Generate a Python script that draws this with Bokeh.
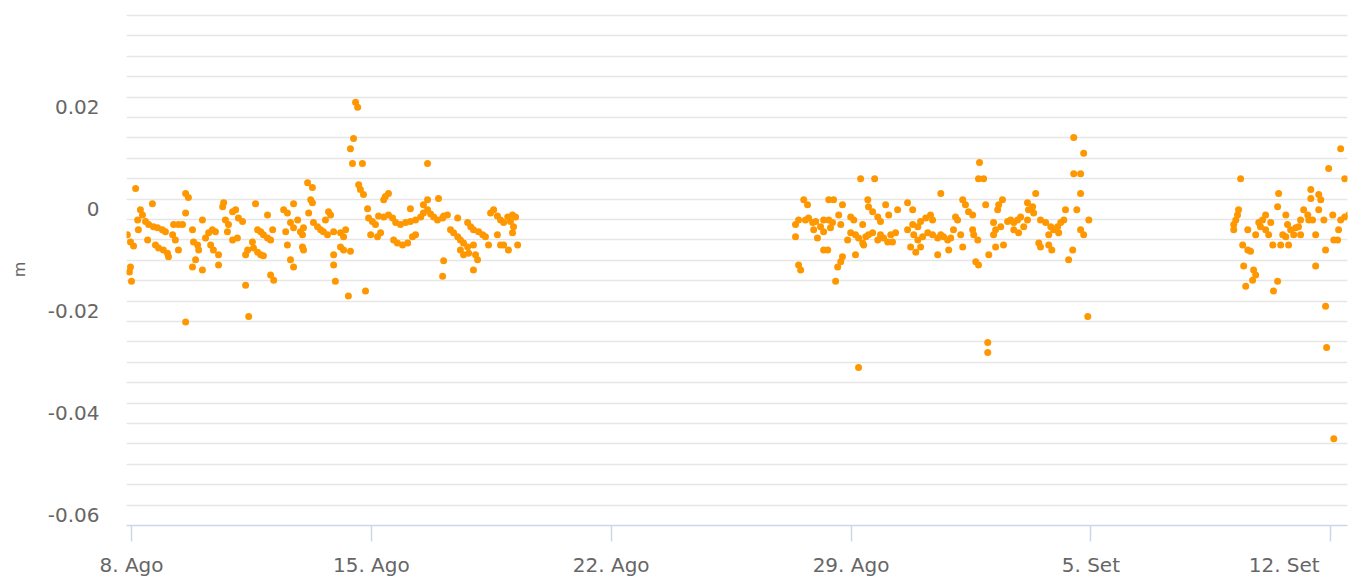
from bokeh.plotting import figure
from bokeh.models import Range1d, FixedTicker
from bokeh.embed import file_html
from bokeh.resources import INLINE

# time: days after 8 Aug 00:00 ; value: metres
aug1_t = [-0.12, -0.06, -0.03, -0.03, 0.00, 0.06, 0.12, 0.18, 0.20, 0.26,
          0.32, 0.41, 0.47, 0.50, 0.61, 0.64, 0.70, 0.76, 0.79, 0.90,
          0.93, 0.99, 1.05, 1.08, 1.20, 1.23, 1.28, 1.37, 1.37, 1.49,
          1.58, 1.58, 1.58, 1.66, 1.78, 1.78, 1.81, 1.87, 1.93, 1.96,
          2.07, 2.07, 2.16, 2.25, 2.31, 2.36, 2.39, 2.45, 2.54, 2.54,
          2.66, 2.69, 2.74, 2.80, 2.83, 2.95, 2.95, 3.04, 3.09, 3.12,
          3.24, 3.33, 3.33, 3.39, 3.42, 3.53, 3.56, 3.62, 3.68, 3.68,
          3.77, 3.77, 3.85, 3.85, 3.97, 3.97, 4.06, 4.06, 4.12, 4.15,
          4.44, 4.50, 4.55, 4.55, 4.64, 4.64, 4.73, 4.73, 4.73, 4.85,
          4.93, 4.99, 4.99, 5.02, 5.02, 5.14, 5.17, 5.23, 5.28, 5.28,
          5.31, 5.43, 5.52, 5.60, 5.66, 5.72, 5.75, 5.81, 5.90, 5.90,
          5.90, 5.95, 6.10, 6.10, 6.19, 6.19, 6.25, 6.33, 6.39, 6.39,
          6.45, 6.48, 6.54, 6.60, 6.63, 6.68, 6.74, 6.77, 6.83, 6.89,
          6.92, 6.98, 7.03, 7.12, 7.18, 7.21, 7.27, 7.36, 7.36, 7.41,
          7.50, 7.50, 7.62, 7.65, 7.71, 7.76, 7.85, 7.91, 8.00, 8.06,
          8.14, 8.14, 8.20, 8.29, 8.29, 8.44, 8.52, 8.52, 8.64, 8.64,
          8.64, 8.73, 8.82, 8.93, 8.96, 9.08, 9.08, 9.11, 9.11, 9.22,
          9.31, 9.40, 9.52, 9.52, 9.60, 9.60, 9.69, 9.69, 9.81, 9.81,
          9.84, 9.90, 9.98, 9.98, 9.98, 10.04, 10.10, 10.13, 10.25, 10.33,
          10.42, 10.48, 10.57, 10.68, 10.68, 10.77, 10.77, 10.86, 10.86, 10.98,
          11.00, 11.06, 11.12, 11.12, 11.15, 11.21, 11.27]
aug1_z = [-0.0050, -0.0123, -0.0064, -0.0113, -0.0141, -0.0072, 0.0041, -0.0021, -0.0040, -0.0001,
          -0.0011, -0.0024, -0.0060, -0.0030, 0.0011, -0.0034, -0.0070, -0.0036, -0.0076, -0.0040,
          -0.0080, -0.0044, -0.0086, -0.0093, -0.0050, -0.0030, -0.0060, -0.0030, -0.0080, -0.0030,
          0.0031, -0.0007, -0.0221, 0.0023, -0.0040, -0.0113, -0.0064, -0.0099, -0.0070, -0.0080,
          -0.0021, -0.0119, -0.0056, -0.0046, -0.0070, -0.0040, -0.0080, -0.0044, -0.0089, -0.0109,
          0.0005, 0.0013, -0.0021, -0.0044, -0.0030, -0.0005, -0.0060, -0.0001, -0.0056, -0.0017,
          -0.0024, -0.0089, -0.0149, -0.0080, -0.0210, -0.0064, -0.0076, 0.0011, -0.0040, -0.0084,
          -0.0044, -0.0089, -0.0050, -0.0091, -0.0011, -0.0056, -0.0060, -0.0129, -0.0040, -0.0139,
          -0.0001, -0.0044, -0.0007, -0.0070, -0.0026, -0.0099, 0.0011, -0.0036, -0.0113, -0.0021,
          -0.0044, -0.0050, -0.0074, -0.0036, -0.0080, 0.0052, -0.0007, 0.0019, 0.0043, 0.0013,
          -0.0026, -0.0034, -0.0040, -0.0044, -0.0021, -0.0050, -0.0005, -0.0011, -0.0044, -0.0089,
          -0.0109, -0.0141, -0.0046, -0.0074, -0.0054, -0.0080, -0.0040, -0.0170, 0.0119, -0.0082,
          0.0090, 0.0139, 0.0210, 0.0200, 0.0048, 0.0039, 0.0090, 0.0029, -0.0160, 0.0001,
          -0.0017, -0.0050, -0.0024, -0.0030, -0.0054, -0.0013, -0.0046, 0.0019, -0.0015, 0.0025,
          0.0031, -0.0011, -0.0017, -0.0060, -0.0026, -0.0066, -0.0030, -0.0070, -0.0026, -0.0066,
          0.0001, -0.0024, -0.0054, -0.0021, -0.0050, -0.0015, 0.0009, -0.0007, 0.0090, 0.0019,
          -0.0001, -0.0009, -0.0015, -0.0021, 0.0021, -0.0017, -0.0131, -0.0013, -0.0101, -0.0011,
          -0.0040, -0.0046, -0.0017, -0.0054, -0.0060, -0.0080, -0.0066, -0.0089, -0.0026, -0.0074,
          -0.0086, -0.0034, -0.0040, -0.0070, -0.0119, -0.0089, -0.0099, -0.0044, -0.0050, -0.0054,
          -0.0070, -0.0007, -0.0001, -0.0013, -0.0050, -0.0021, -0.0070, -0.0026, -0.0070, -0.0015,
          -0.0080, -0.0024, -0.0011, -0.0046, -0.0034, -0.0015, -0.0070]

aug2_t = [19.38, 19.38, 19.47, 19.47, 19.53, 19.62, 19.67, 19.73, 19.76, 19.88,
          19.91, 19.97, 20.02, 20.11, 20.20, 20.20, 20.20, 20.32, 20.35, 20.35,
          20.40, 20.46, 20.49, 20.55, 20.61, 20.64, 20.70, 20.70, 20.75, 20.75,
          20.90, 20.99, 20.99, 21.08, 21.13, 21.13, 21.22, 21.22, 21.28, 21.34,
          21.34, 21.37, 21.43, 21.49, 21.51, 21.51, 21.63, 21.63, 21.69, 21.78,
          21.78, 21.86, 21.86, 21.95, 22.01, 22.07, 22.10, 22.16, 22.21, 22.30,
          22.36, 22.65, 22.65, 22.74, 22.80, 22.80, 22.83, 22.89, 22.95, 22.95,
          23.03, 23.03, 23.09, 23.18, 23.24, 23.32, 23.38, 23.38, 23.53, 23.53,
          23.62, 23.62, 23.70, 23.82, 23.85, 23.91, 23.99, 24.05, 24.11, 24.20,
          24.26, 24.26, 24.34, 24.43, 24.55, 24.55, 24.58, 24.64, 24.70, 24.72,
          24.72, 24.75, 24.87, 24.93, 24.99, 24.99, 25.02, 25.16, 25.16, 25.22,
          25.22, 25.28, 25.31, 25.37, 25.42, 25.45, 25.57, 25.66, 25.75, 25.75,
          25.86, 25.89, 25.95, 26.04, 26.15, 26.15, 26.18, 26.30, 26.33, 26.39,
          26.48, 26.53, 26.53, 26.68, 26.77, 26.77, 26.83, 26.86, 26.91, 27.03,
          27.06, 27.12, 27.21, 27.26, 27.35, 27.47, 27.50, 27.50, 27.59, 27.70,
          27.70, 27.70, 27.79, 27.79, 27.91, 27.94]
aug2_z = [-0.0030, -0.0054, -0.0021, -0.0109, -0.0119, 0.0019, -0.0021, 0.0009, -0.0017, -0.0026,
          -0.0040, -0.0024, -0.0056, -0.0034, -0.0021, -0.0044, -0.0080, -0.0080, 0.0019, -0.0021,
          -0.0036, -0.0026, 0.0019, -0.0141, -0.0113, -0.0011, -0.0030, -0.0103, 0.0009, -0.0093,
          -0.0060, -0.0015, -0.0046, -0.0021, -0.0050, -0.0089, -0.0056, -0.0310, 0.0060, -0.0030,
          -0.0066, -0.0070, -0.0054, 0.0019, 0.0005, -0.0050, -0.0005, -0.0046, 0.0060, -0.0015,
          -0.0060, -0.0024, -0.0050, -0.0056, 0.0009, -0.0064, -0.0011, -0.0050, -0.0064, -0.0046,
          -0.0001, 0.0013, -0.0040, -0.0074, -0.0001, -0.0030, -0.0050, -0.0084, -0.0034, -0.0060,
          -0.0024, -0.0074, -0.0054, -0.0017, -0.0046, -0.0011, -0.0021, -0.0050, -0.0056, -0.0089,
          0.0031, -0.0050, -0.0054, -0.0060, -0.0080, -0.0056, -0.0040, -0.0015, -0.0021, -0.0050,
          0.0019, -0.0074, 0.0009, -0.0005, -0.0011, -0.0040, -0.0050, -0.0103, -0.0060, 0.0060,
          -0.0109, 0.0092, 0.0060, 0.0009, -0.0261, -0.0281, -0.0089, -0.0026, -0.0050, -0.0040,
          -0.0074, -0.0001, 0.0009, -0.0034, 0.0019, -0.0070, -0.0024, -0.0021, -0.0026, -0.0040,
          -0.0021, -0.0046, -0.0015, -0.0034, 0.0013, -0.0021, -0.0001, 0.0005, -0.0007, 0.0031,
          -0.0066, -0.0021, -0.0074, -0.0026, -0.0050, -0.0070, -0.0034, -0.0080, -0.0040, -0.0034,
          -0.0046, -0.0026, -0.0021, -0.0001, -0.0099, -0.0080, 0.0141, 0.0070, -0.0001, 0.0070,
          0.0031, -0.0040, 0.0110, -0.0050, -0.0210, -0.0021]

sep_t = [32.17, 32.17, 32.23, 32.28, 32.31, 32.37, 32.43, 32.46, 32.52, 32.58,
         32.58, 32.66, 32.72, 32.75, 32.81, 32.81, 32.90, 32.95, 33.01, 33.10,
         33.10, 33.19, 33.25, 33.31, 33.33, 33.45, 33.45, 33.48, 33.54, 33.60,
         33.69, 33.69, 33.74, 33.77, 33.83, 33.92, 33.98, 34.06, 34.12, 34.12,
         34.21, 34.33, 34.36, 34.42, 34.42, 34.47, 34.56, 34.56, 34.65, 34.65,
         34.71, 34.80, 34.85, 34.85, 34.88, 34.94, 35.06, 35.09, 35.09, 35.20,
         35.23, 35.29, 35.29, 35.41, 35.41, 35.53]
sep_z = [-0.0030, -0.0040, -0.0021, -0.0011, -0.0001, 0.0060, -0.0070, -0.0111, -0.0151, -0.0040,
         -0.0080, -0.0082, -0.0139, -0.0119, -0.0050, -0.0129, -0.0026, -0.0034, -0.0021, -0.0011,
         -0.0040, -0.0050, -0.0026, -0.0070, -0.0160, 0.0005, -0.0141, 0.0031, -0.0070, -0.0050,
         -0.0011, -0.0054, -0.0030, -0.0070, -0.0040, -0.0050, -0.0036, -0.0034, -0.0021, -0.0050,
         -0.0001, -0.0011, -0.0021, 0.0039, 0.0021, -0.0021, -0.0050, -0.0111, 0.0029, -0.0001,
         0.0019, -0.0021, -0.0080, -0.0190, -0.0271, 0.0080, -0.0011, -0.0060, -0.0450, -0.0060,
         -0.0040, 0.0119, -0.0021, 0.0060, -0.0015, -0.0011]

x_ticks = [0, 7, 14, 21, 28, 35]
x_labels = ["8. Ago", "15. Ago", "22. Ago", "29. Ago", "5. Set",
            "12. Set\u2007\u2007\u2008"]
y_ticks = [-0.06, -0.04, -0.02, 0, 0.02]
y_labels = ["-0.06", "-0.04", "-0.02", "0", "0.02"]

assert len(aug1_t) == len(aug1_z)
assert len(aug2_t) == len(aug2_z)
assert len(sep_t) == len(sep_z)

t_all = aug1_t + aug2_t + sep_t
z_all = aug1_z + aug2_z + sep_z

FONT = "DejaVu Sans"
GREY = "#666666"

p = figure(width=1351, height=580, output_backend="svg", toolbar_location=None,
           x_range=Range1d(-0.146, 35.49), y_range=Range1d(-0.062, 0.0384),
           min_border_left=126, min_border_right=4, min_border_top=13,
           min_border_bottom=55, background_fill_color="white",
           border_fill_color="white")
p.outline_line_color = None

# horizontal grid every 0.004
grid_vals = [round(-0.062 + 0.004 * k, 3) for k in range(26)]
p.xgrid.visible = False
p.ygrid.ticker = FixedTicker(ticks=grid_vals)
p.ygrid.grid_line_color = "#e6e6e6"
p.ygrid.grid_line_width = 1.5

ya = p.yaxis[0]
ya.ticker = FixedTicker(ticks=y_ticks)
ya.major_label_overrides = dict(zip(y_ticks, y_labels))
ya.axis_line_color = None
ya.major_tick_line_color = None
ya.minor_tick_line_color = None
ya.major_tick_out = 0
ya.major_tick_in = 0
ya.major_label_standoff = 27
ya.major_label_text_font = FONT
ya.major_label_text_font_size = "20px"
ya.major_label_text_color = GREY
ya.axis_label = "m"
ya.axis_label_text_font = FONT
ya.axis_label_text_font_size = "16px"
ya.axis_label_text_font_style = "normal"
ya.axis_label_text_color = GREY
ya.axis_label_standoff = 16

xa = p.xaxis[0]
xa.ticker = FixedTicker(ticks=x_ticks)
xa.major_label_overrides = dict(zip(x_ticks, x_labels))
xa.axis_line_color = "#ccd6eb"
xa.axis_line_width = 1.5
xa.major_tick_line_color = "#ccd6eb"
xa.major_tick_line_width = 1.5
xa.major_tick_out = 16
xa.major_tick_in = 0
xa.minor_tick_line_color = None
xa.major_label_standoff = 11
xa.major_label_text_font = FONT
xa.major_label_text_font_size = "20px"
xa.major_label_text_color = GREY

p.scatter(t_all, z_all, size=7, fill_color="#ff9800", line_color=None)

open("out.html", "w").write(file_html(p, INLINE))
